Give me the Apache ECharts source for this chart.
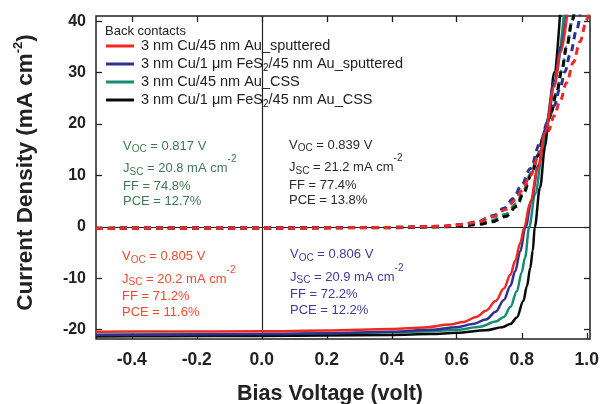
<!DOCTYPE html>
<html><head><meta charset="utf-8">
<script src="https://cdn.jsdelivr.net/npm/echarts@6/dist/echarts.min.js"></script>
<style>html,body{margin:0;padding:0;background:#fff}#c{width:602px;height:404px}</style>
</head><body><div id="c"></div>
<script>
// ---- tick values ----
const xTicks = [-0.4, -0.2, 0.0, 0.2, 0.4, 0.6, 0.8, 1.0];
const yTicks = [-20, -10, 0, 10, 20, 30, 40];

// ---- legend names ----
const names = [
  '3 nm Cu/45 nm Au_sputtered',
  '3 nm Cu/1 μm FeS2/45 nm Au_sputtered',
  '3 nm Cu/45 nm Au_CSS',
  '3 nm Cu/1 μm FeS2/45 nm Au_CSS'
];

// ---- illuminated J-V (solid) [V, J] ----
const redLight = [[-0.51,-20.4],[-0.3,-20.35],[0,-20.3],[0.2,-20.15],[0.4,-19.85],[0.5,-19.55],[0.58,-19.0],[0.62,-18.5],[0.66,-17.5],[0.69,-16.3],[0.72,-14.4],[0.745,-12.0],[0.765,-9.3],[0.78,-6.6],[0.795,-3.2],[0.808,0],[0.825,4.5],[0.85,11.5],[0.872,18.3],[0.9,27.3],[0.92,34],[0.94,41.5]];
const blueLight = [[-0.51,-21.0],[-0.3,-20.95],[0,-20.85],[0.2,-20.7],[0.4,-20.4],[0.52,-20.0],[0.6,-19.5],[0.65,-18.9],[0.69,-18.0],[0.72,-16.5],[0.745,-14.2],[0.765,-11.5],[0.78,-8.6],[0.795,-4.8],[0.812,0],[0.83,5.2],[0.851,12.0],[0.872,19],[0.9,28.3],[0.92,35],[0.938,41.5]];
const tealLight = [[-0.51,-20.95],[-0.3,-20.9],[0,-20.85],[0.2,-20.75],[0.4,-20.5],[0.52,-20.3],[0.6,-20.0],[0.672,-19.4],[0.72,-18.4],[0.745,-17.5],[0.765,-15.6],[0.785,-12.5],[0.8,-8.8],[0.81,-6.0],[0.823,0],[0.841,6.4],[0.866,15.3],[0.88,20.3],[0.9,27.8],[0.93,41.5]];
const blackLight = [[-0.51,-21.3],[-0.3,-21.25],[0,-21.2],[0.2,-21.1],[0.4,-21.0],[0.52,-20.85],[0.6,-20.6],[0.69,-20.1],[0.74,-19.5],[0.765,-18.9],[0.785,-17.6],[0.805,-14.4],[0.816,-11.5],[0.826,-8.0],[0.834,-4.6],[0.84,0],[0.856,7.6],[0.872,15.6],[0.882,20.7],[0.9,30],[0.918,41.5]];

// ---- dark J-V (dashed) [V, J] ----
const redDark = [[-0.51,-0.3],[0,-0.25],[0.4,-0.1],[0.55,0.1],[0.62,0.45],[0.662,0.9],[0.713,2.0],[0.75,3.4],[0.78,5.2],[0.8,7.0],[0.826,10.0],[0.856,14.5],[0.882,18.7],[0.9,21.6],[0.918,24.5],[0.938,28],[0.959,32],[0.979,36],[1.0,40.3],[1.01,42.3]];
const blueDark = [[-0.51,-0.3],[0,-0.25],[0.4,-0.1],[0.55,0.1],[0.62,0.5],[0.662,1.0],[0.713,2.2],[0.745,3.6],[0.774,5.5],[0.8,8.2],[0.826,11.3],[0.856,16.2],[0.88,20.4],[0.9,23.6],[0.918,27],[0.933,30.2],[0.949,33.6],[0.969,38.3],[0.98,41.5]];
const tealDark = [[-0.51,-0.25],[0,-0.2],[0.4,-0.1],[0.55,0.05],[0.62,0.3],[0.67,0.7],[0.71,1.3],[0.75,2.4],[0.785,4.5],[0.805,7.0],[0.83,10.6],[0.85,14.0],[0.866,17.4],[0.89,22.3],[0.908,26.3],[0.923,30.4],[0.938,35],[0.955,40],[0.962,42]];
const blackDark = [[-0.51,-0.25],[0,-0.2],[0.4,-0.15],[0.55,0],[0.62,0.2],[0.67,0.5],[0.71,1.0],[0.75,2.0],[0.785,4.0],[0.805,6.5],[0.83,10.2],[0.85,13.8],[0.866,17.3],[0.89,22.3],[0.908,26.3],[0.923,30.4],[0.938,35],[0.955,40],[0.962,42]];

// ---- annotation values ----
const annVoc = ['0.817', '0.839', '0.805', '0.806'];
const annJsc = ['20.8', '21.2', '20.2', '20.9'];
const annFF  = ['74.8%', '77.4%', '71.2%', '72.2%'];
const annPCE = ['12.7%', '13.8%', '11.6%', '12.2%'];

const FONT = "'Liberation Sans', Arial, Helvetica, sans-serif";
const colors = ['#ec2a23', '#2e3192', '#178a76', '#0a0a0a'];
const annColors = ['#3f7a52', '#2a2a2a', '#ef4a2e', '#3d3d9e'];
const annPos = [[123, 146], [289, 145], [122, 256.5], [290, 254.5]];

function solid(name, data, color, z) {
  return {name, type: 'line', data, smooth: 0.35, smoothMonotone: 'x', showSymbol: false, symbol: 'none',
    lineStyle: {color, width: 2.5}, itemStyle: {color}, z, clip: true};
}
function dashed(name, data, color, z) {
  return {name, type: 'line', data, smooth: 0.35, smoothMonotone: 'x', showSymbol: false, symbol: 'none',
    lineStyle: {color, width: 3, type: [7, 5]}, itemStyle: {color}, z, clip: true};
}

function annot(i) {
  const [x, y] = annPos[i];
  const color = annColors[i];
  const rich = {
    sub: {fontSize: 10, fontFamily: FONT, fill: color, lineHeight: 16, padding: [7, 0, 0, 0], verticalAlign: 'middle'},
    sup: {fontSize: 10, fontFamily: FONT, fill: color, lineHeight: 16, padding: [0, 0, 18, 0], verticalAlign: 'middle'}
  };
  const lines = [
    ['V{sub|OC} = ' + annVoc[i] + ' V', 0],
    ['J{sub|SC} = ' + annJsc[i] + ' mA cm{sup|-2}', 22.5],
    ['FF = ' + annFF[i], 40],
    ['PCE = ' + annPCE[i], 55.5]
  ];
  return lines.map(([t, dy]) => ({type: 'text', x, y: y + dy, z: 100,
    style: {text: t, fill: color, font: '13px ' + FONT, fontSize: 13, fontFamily: FONT, verticalAlign: 'middle', lineHeight: 16, rich}}));
}

const chart = echarts.init(document.getElementById('c'), null, {renderer: 'canvas'});
const axisCommon = {
  splitLine: {show: false}
};
chart.setOption({
  animation: false,
  backgroundColor: '#fff',
  title: {text: 'Back contacts', left: 105, top: 25, padding: 0,
    textStyle: {fontSize: 13, fontWeight: 'normal', color: '#222', fontFamily: FONT}},
  legend: {
    data: names, orient: 'vertical', left: 106, top: 37, padding: 0, itemGap: 0,
    itemWidth: 28, itemHeight: 3, icon: 'rect', selectedMode: false,
    formatter: n => n.replace('FeS2', 'FeS{s|2}'),
    textStyle: {fontSize: 14.5, fontFamily: FONT, color: '#222', lineHeight: 18, padding: [0, 0, 0, 2],
      rich: {s: {fontSize: 10, fontFamily: FONT, color: '#222', lineHeight: 18, padding: [8, 0, 0, 0], verticalAlign: 'middle'}}}
  },
  grid: {left: 96, right: 12, top: 16, bottom: 65, show: true, borderColor: '#222', borderWidth: 1.5,
    backgroundColor: 'transparent', containLabel: false, outerBoundsMode: 'none'},
  xAxis: [
    Object.assign({type: 'value', min: -0.51, max: 1.01, position: 'bottom',
      name: 'Bias Voltage (volt)', nameLocation: 'middle', nameGap: 44,
      nameTextStyle: {fontSize: 21.5, fontWeight: 'bold', color: '#222', fontFamily: FONT, padding: [0, 26, 0, 0]},
      axisLine: {show: false, onZero: false},
      axisTick: {show: true, inside: true, length: 6, customValues: xTicks, lineStyle: {color: '#222', width: 1.3}},
      axisLabel: {customValues: xTicks, formatter: v => v.toFixed(1), fontSize: 17.5, fontWeight: 'bold', color: '#222', fontFamily: FONT, margin: 12}
    }, axisCommon),
    Object.assign({type: 'value', min: -0.51, max: 1.01, position: 'top',
      axisLine: {show: false, onZero: false},
      axisTick: {show: true, inside: true, length: 6, customValues: xTicks, lineStyle: {color: '#222', width: 1.3}},
      axisLabel: {show: false}
    }, axisCommon)
  ],
  yAxis: [
    Object.assign({type: 'value', min: -21.8, max: 41, position: 'left',
      name: 'Current Density (mA cm{sup|-2})', nameLocation: 'middle', nameGap: 56, nameRotate: 90,
      nameTextStyle: {fontSize: 22.5, fontWeight: 'bold', color: '#222', fontFamily: FONT, padding: [0, 0, 0, 10],
        rich: {sup: {fontSize: 13, fontWeight: 'bold', color: '#222', fontFamily: FONT, padding: [0, 0, 15, 0], verticalAlign: 'middle'}}},
      axisLine: {show: false, onZero: false},
      axisTick: {show: true, inside: true, length: 6, customValues: yTicks, lineStyle: {color: '#222', width: 1.3}},
      axisLabel: {customValues: yTicks, fontSize: 16, fontWeight: 'bold', color: '#222', fontFamily: FONT, margin: 10}
    }, axisCommon),
    Object.assign({type: 'value', min: -21.8, max: 41, position: 'right',
      axisLine: {show: false, onZero: false},
      axisTick: {show: true, inside: true, length: 6, customValues: yTicks, lineStyle: {color: '#222', width: 1.3}},
      axisLabel: {show: false}
    }, axisCommon)
  ],
  series: [
    Object.assign(dashed(names[2], tealDark, colors[2], 2), {
      markLine: {silent: true, symbol: 'none', label: {show: false},
        lineStyle: {color: '#222', width: 1.2, type: 'solid'},
        data: [{xAxis: 0}, {yAxis: 0}]}
    }),
    dashed(names[3], blackDark, colors[3], 3),
    dashed(names[1], blueDark, colors[1], 4),
    dashed(names[0], redDark, colors[0], 5),
    solid(names[2], tealLight, colors[2], 6),
    solid(names[3], blackLight, colors[3], 7),
    solid(names[1], blueLight, colors[1], 8),
    solid(names[0], redLight, colors[0], 9)
  ],
  graphic: [].concat(annot(0), annot(1), annot(2), annot(3))
});
</script></body></html>
